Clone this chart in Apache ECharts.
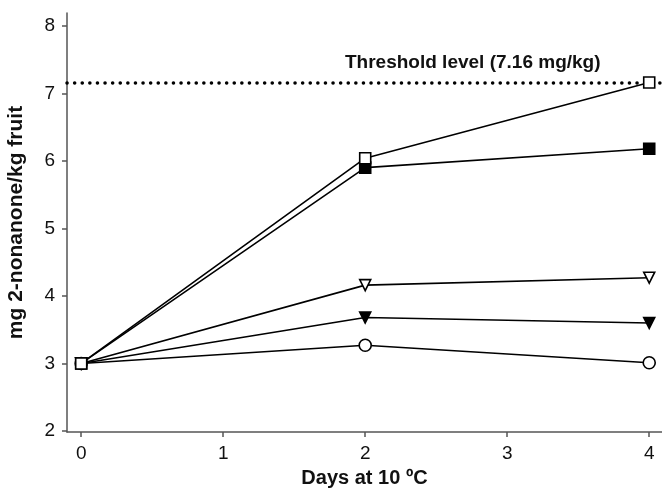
<!DOCTYPE html>
<html>
<head>
<meta charset="utf-8">
<script src="https://cdn.jsdelivr.net/npm/echarts@6/dist/echarts.min.js"></script>
<style>
html, body { margin: 0; padding: 0; background: #fff; }
#chart { width: 662px; height: 493px; }
</style>
</head>
<body>
<div id="chart"></div>
<script>
// storage days and 2-nonanone content per treatment
var days = [0, 2, 4];
var openSquare = [3.0, 6.04, 7.16];
var filledSquare = [3.0, 5.90, 6.18];
var openTriangle = [3.0, 4.16, 4.27];
var filledTriangle = [3.0, 3.68, 3.60];
var openCircle = [3.0, 3.27, 3.01];
var xTicks = [0, 1, 2, 3, 4];
var yTicks = [2, 3, 4, 5, 6, 7, 8];
var threshold = 7.16;
var thresholdText = 'Threshold level (7.16 mg/kg)';

var font = 'Liberation Sans, Arial, sans-serif';

function pairs(vals) {
	return days.map(function(d, i) { return [d, vals[i]]; });
}

function makeSeries(name, vals, symbol, fill, rotate) {
	return {
		name: name,
		type: 'line',
		data: pairs(vals),
		symbol: symbol,
		symbolSize: symbol == 'circle' ? 12 : 11,
		symbolRotate: rotate || 0,
		showAllSymbol: true,
		lineStyle: { color: '#000', width: 1.6 },
		itemStyle: { color: fill, borderColor: '#000', borderWidth: 1.6 },
		z: 3
	};
}

var myChart = echarts.init(document.getElementById('chart'));
var option = {
	animation: false,
	grid: {
		left: 67,
		right: 0,
		top: 13,
		bottom: 61,
		containLabel: false,
		outerBoundsMode: 'none'
	},
	xAxis: {
		type: 'value',
		min: -0.1,
		max: 4.09,
		name: 'Days at 10 ºC',
		nameLocation: 'middle',
		nameGap: 36,
		nameTextStyle: { fontFamily: font, fontSize: 20, fontWeight: 'bold', color: '#111' },
		axisLine: { show: true, onZero: false, lineStyle: { color: '#555', width: 1.5 } },
		axisTick: { show: true, length: 5, lineStyle: { color: '#555', width: 1.5 }, customValues: xTicks },
		axisLabel: { fontFamily: font, fontSize: 19, color: '#111', margin: 12, customValues: xTicks },
		splitLine: { show: false }
	},
	yAxis: {
		type: 'value',
		min: 1.985,
		max: 8.19,
		name: 'mg 2-nonanone/kg fruit',
		nameLocation: 'middle',
		nameGap: 40,
		nameTextStyle: { fontFamily: font, fontSize: 21, fontWeight: 'bold', color: '#111' },
		axisLine: { show: true, onZero: false, lineStyle: { color: '#555', width: 1.5 } },
		axisTick: { show: true, length: 5, lineStyle: { color: '#555', width: 1.5 }, customValues: yTicks },
		axisLabel: { fontFamily: font, fontSize: 19, color: '#111', margin: 12, customValues: yTicks },
		splitLine: { show: false }
	},
	graphic: [{
		type: 'text',
		left: 345,
		top: 53,
		style: {
			text: thresholdText,
			fontFamily: font,
			fontSize: 19,
			fontWeight: 'bold',
			fill: '#111'
		}
	}],
	series: [
		makeSeries('circle', openCircle, 'circle', '#fff'),
		makeSeries('filled triangle', filledTriangle, 'triangle', '#000', 180),
		makeSeries('open triangle', openTriangle, 'triangle', '#fff', 180),
		makeSeries('filled square', filledSquare, 'rect', '#000'),
		{
			name: 'open square',
			type: 'line',
			data: pairs(openSquare),
			symbol: 'rect',
			symbolSize: 11,
			showAllSymbol: true,
			lineStyle: { color: '#000', width: 1.6 },
			itemStyle: { color: '#fff', borderColor: '#000', borderWidth: 1.6 },
			z: 4,
			markLine: {
				silent: true,
				symbol: 'none',
				label: { show: false },
				lineStyle: { color: '#000', width: 3.5, type: [0.1, 7.5], cap: 'round' },
				data: [{ yAxis: threshold }],
				z: 2
			}
		}
	]
};
myChart.setOption(option);
</script>
</body>
</html>
